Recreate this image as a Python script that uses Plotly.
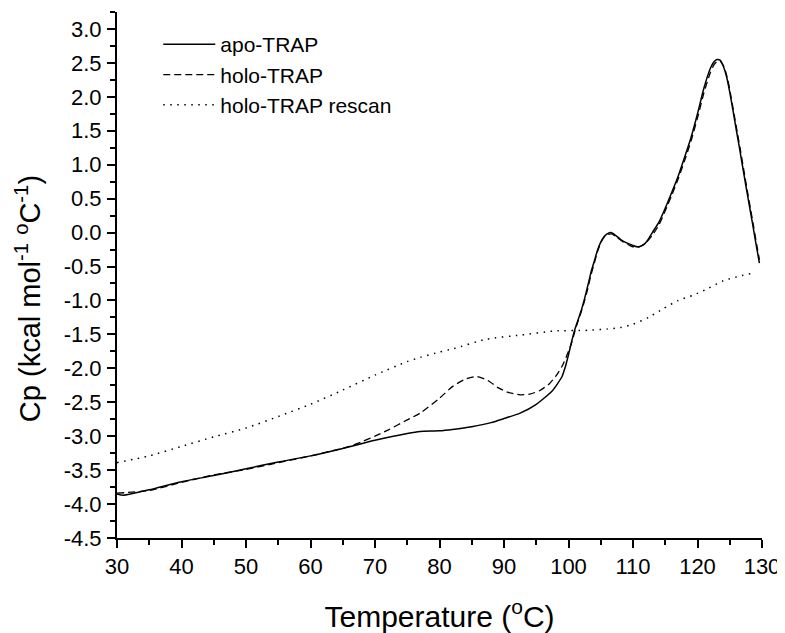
import plotly.graph_objects as go

# ---- data ----
apo_x = [30, 31, 35, 40, 45, 50, 55, 60, 65, 70, 75, 77, 80, 82, 85, 88, 90, 92.5, 95, 97.5,
         99, 99.5, 100, 100.5, 101, 101.5, 102, 102.5, 103, 103.5, 104, 104.5, 105, 105.5,
         106, 106.6, 107.3, 108.2, 109.2, 110, 110.7, 111.5, 112.3, 113, 114, 115, 116, 117,
         118, 119, 120, 121, 122, 122.5, 123, 123.5, 124, 124.5, 125, 125.5, 126, 126.5, 127,
         127.5, 128, 128.5, 129, 129.6]
apo_y = [-3.85, -3.87, -3.79, -3.67, -3.58, -3.48, -3.38, -3.29, -3.18, -3.06, -2.96, -2.93,
         -2.92, -2.90, -2.86, -2.80, -2.74, -2.66, -2.53, -2.33, -2.12, -1.98, -1.80, -1.60,
         -1.42, -1.28, -1.14, -0.97, -0.78, -0.58, -0.42, -0.26, -0.14, -0.06, -0.02, 0.00,
         -0.04, -0.11, -0.16, -0.19, -0.21, -0.19, -0.11, 0.00, 0.15, 0.36, 0.59, 0.83,
         1.11, 1.40, 1.75, 2.13, 2.42, 2.51, 2.55, 2.54, 2.45, 2.30, 2.07, 1.80, 1.52, 1.25,
         0.97, 0.69, 0.42, 0.15, -0.13, -0.45]

holo_x = [30, 35, 40, 45, 50, 55, 60, 64, 66, 68, 70, 72, 75, 77, 80, 82, 84, 85.8, 87.5, 89,
          90.5, 92.5, 94, 95.5, 97, 98, 99, 100, 100.5, 101, 101.5, 102, 102.5, 103, 103.5,
          104, 104.5, 105, 105.5, 106, 106.7, 107.5, 108.5, 109.5, 110.3, 111, 112, 113, 114,
          115, 116, 117, 118, 119, 120, 121, 122, 122.6, 123.2, 123.7, 124.2, 124.7, 125.2,
          125.7, 126.2, 126.7, 127.2, 127.7, 128.2, 128.7, 129.2, 129.6]
holo_y = [-3.84, -3.80, -3.68, -3.57, -3.49, -3.39, -3.29, -3.20, -3.15, -3.08, -3.00, -2.91,
          -2.76, -2.66, -2.44, -2.27, -2.16, -2.12, -2.18, -2.28, -2.35, -2.39, -2.38, -2.33,
          -2.23, -2.12, -1.97, -1.75, -1.62, -1.45, -1.30, -1.16, -1.00, -0.82, -0.62, -0.45,
          -0.28, -0.15, -0.07, -0.03, -0.02, -0.07, -0.14, -0.19, -0.22, -0.21, -0.15, -0.04,
          0.11, 0.32, 0.55, 0.79, 1.06, 1.35, 1.69, 2.06, 2.36, 2.48, 2.53, 2.51, 2.42, 2.25,
          2.00, 1.73, 1.46, 1.19, 0.91, 0.63, 0.36, 0.09, -0.19, -0.40]

rescan_x = [30, 35, 40, 45, 50, 55, 60, 65, 70, 75, 77, 80, 82.2, 87.3, 92.6, 97.8, 103,
            106, 108, 110, 112.4, 114.7, 117, 119.4, 121.7, 124, 126.6, 129]
rescan_y = [-3.39, -3.29, -3.15, -3.01, -2.88, -2.71, -2.53, -2.32, -2.10, -1.90, -1.84,
            -1.76, -1.71, -1.57, -1.51, -1.45, -1.44, -1.42, -1.40, -1.35, -1.25, -1.12,
            -1.00, -0.92, -0.82, -0.71, -0.64, -0.59]

series_names = ["apo-TRAP", "holo-TRAP", "holo-TRAP rescan"]

x_tick_vals = [30, 40, 50, 60, 70, 80, 90, 100, 110, 120, 130]
x_tick_text = ["30", "40", "50", "60", "70", "80", "90", "100", "110", "120", "130"]
y_tick_vals = [-4.5, -4.0, -3.5, -3.0, -2.5, -2.0, -1.5, -1.0, -0.5, 0.0, 0.5, 1.0, 1.5,
               2.0, 2.5, 3.0]
y_tick_text = ["-4.5", "-4.0", "-3.5", "-3.0", "-2.5", "-2.0", "-1.5", "-1.0", "-0.5",
               "0.0", "0.5", "1.0", "1.5", "2.0", "2.5", "3.0"]

FONT = "Arial, Liberation Sans, sans-serif"

fig = go.Figure()
fig.add_trace(go.Scatter(x=apo_x, y=apo_y, mode="lines", name=series_names[0],
                         legendgroup="a",
                         line=dict(color="black", width=1.5, shape="spline", smoothing=0.6)))
fig.add_trace(go.Scatter(x=holo_x, y=holo_y, mode="lines", name=series_names[1],
                         legendgroup="b",
                         line=dict(color="black", width=1.3, dash="7px,4px",
                                   shape="spline", smoothing=0.6)))
fig.add_trace(go.Scatter(x=rescan_x, y=rescan_y, mode="lines", name=series_names[2],
                         legendgroup="c",
                         line=dict(color="black", width=1.5, dash="1.5px,5.5px",
                                   shape="spline", smoothing=0.6)))

axis_common = dict(
    showgrid=False, zeroline=False, showline=True, linecolor="black", linewidth=2,
    ticks="outside", ticklen=8, tickwidth=2, tickcolor="black",
    tickfont=dict(family=FONT, size=22, color="black"),
)

fig.update_xaxes(
    range=[30, 130], tickmode="array", tickvals=x_tick_vals, ticktext=x_tick_text,
    ticklabelstandoff=0,
    minor=dict(dtick=5, ticks="outside", ticklen=5, tickwidth=2, tickcolor="black",
               showgrid=False),
    title=dict(text="Temperature (<sup>o</sup>C)",
               font=dict(family=FONT, size=30, color="black"), standoff=28),
    **axis_common,
)
fig.update_yaxes(
    range=[-4.5, 3.25], tickmode="array", tickvals=y_tick_vals, ticktext=y_tick_text,
    ticklabelstandoff=1,
    minor=dict(dtick=0.25, tick0=0, ticks="outside", ticklen=5, tickwidth=2,
               tickcolor="black", showgrid=False),
    **axis_common,
)

fig.add_annotation(
    text="Cp (kcal mol<sup>-1</sup> <sup>o</sup>C<sup>-1</sup>)",
    xref="paper", yref="paper", x=-0.138, y=0.456, textangle=-90,
    showarrow=False, xanchor="center", yanchor="middle",
    font=dict(family=FONT, size=29, color="black"),
)

# the page body keeps an 8 px default margin, so the figure is 8 px smaller
fig.update_layout(
    width=777, height=625,
    margin=dict(l=109, r=23, t=4, b=95),
    paper_bgcolor="white", plot_bgcolor="white",
    showlegend=True,
    legend=dict(x=0.064, y=0.977, xanchor="left", yanchor="top",
                bgcolor="rgba(0,0,0,0)", borderwidth=0,
                font=dict(family=FONT, size=21, color="black"),
                itemwidth=52, tracegroupgap=0),
)

fig.write_html("out.html")
